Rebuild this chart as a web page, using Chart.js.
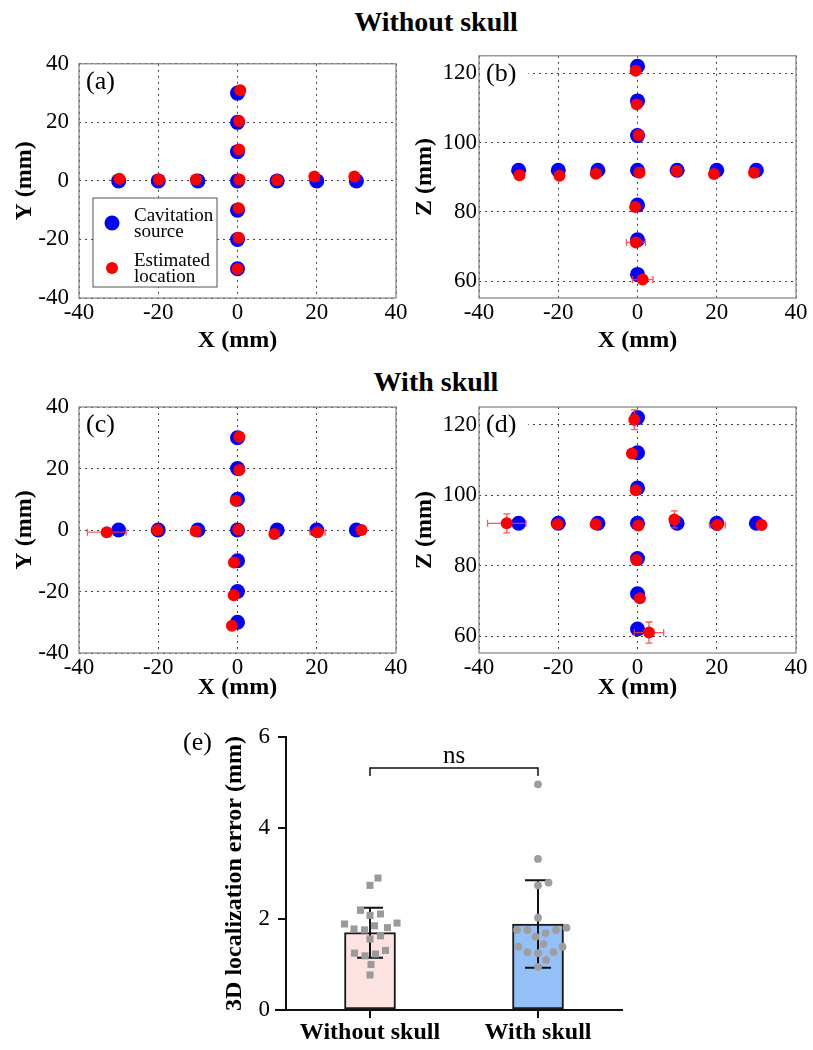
<!DOCTYPE html>
<html>
<head>
<meta charset="utf-8">
<script src="https://cdn.jsdelivr.net/npm/chart.js@4.4.0/dist/chart.umd.min.js"></script>
<style>
  body { margin: 0; background: #fff; width: 813px; height: 1050px; position: relative; overflow: hidden; font-family: "Liberation Serif", "Times New Roman", serif; }
  .panel { position: absolute; }
  .title { position: absolute; left: 0; width: 872px; text-align: center; font-weight: bold; font-size: 28px; line-height: 31px; }
</style>
</head>
<body>
<div class="title" style="top:6px">Without skull</div>
<div class="title" style="top:366px">With skull</div>
<canvas id="pa" class="panel" width="410" height="330" style="left:0;top:40px"></canvas>
<canvas id="pb" class="panel" width="410" height="330" style="left:400px;top:40px"></canvas>
<canvas id="pc" class="panel" width="410" height="345" style="left:0;top:370px"></canvas>
<canvas id="pd" class="panel" width="410" height="345" style="left:400px;top:370px"></canvas>
<canvas id="pe" class="panel" width="500" height="350" style="left:150px;top:700px"></canvas>
<script>
// tick values
const xyTicks = [-40, -20, 0, 20, 40];
const zTicks = [60, 80, 100, 120];
const errTicks = [0, 2, 4, 6];

// cavitation source positions (mm), same for both conditions
const srcX = [-30, -20, -10, 0, 10, 20, 30, 0, 0, 0, 0, 0, 0];
const srcY = [0, 0, 0, 0, 0, 0, 0, 30, 20, 10, -10, -20, -30];
const srcZ = [92, 92, 92, 92, 92, 92, 92, 122, 112, 102, 82, 72, 62];

// (a) without skull, X-Y estimates
const aEstX = [-29.8, -19.8, -10.5, 0.5, 10.0, 19.4, 29.5, 0.7, 0.4, 0.4, 0.3, 0.3, 0.0];
const aEstY = [0.7, 0.5, 0.5, 0.5, 0.3, 1.5, 1.5, 31.0, 20.5, 10.7, -9.3, -19.4, -30.1];

// (b) without skull, X-Z estimates
const bEstX = [-29.8, -19.7, -10.5, 0.5, 9.9, 19.3, 29.4, -0.45, -0.2, 0.3, -0.6, -0.4, 1.3];
const bEstZ = [90.6, 90.4, 91.0, 91.3, 91.8, 90.9, 91.3, 120.7, 111.0, 102.2, 81.4, 71.2, 60.5];
const bErrX = [0, 0, 0, 0, 0, 0, 0, 0, 0, 0, 0, 2.4, 2.6];
const bErrZ = [0, 0, 0, 0, 0, 0, 0, 0, 0, 0, 0, 0, 0];

// (c) with skull, X-Y estimates
const cEstX = [-33.0, -20.2, -10.55, 0.2, 9.3, 20.2, 31.3, 0.45, 0.45, -0.45, -0.9, -0.95, -1.4];
const cEstY = [-0.7, 0.0, -0.4, 0.2, -1.3, -0.7, 0.0, 30.3, 19.5, 9.5, -10.6, -21.2, -31.1];
const cErrX = [4.9, 0, 0, 0, 0, 1.9, 0, 0, 1.0, 0, 0, 0, 0];
const cErrY = [0, 0, 0, 0, 0, 0, 0, 0, 0, 0, 0, 0, 0];

// (d) with skull, X-Z estimates
const dEstX = [-33.0, -20.2, -10.55, 0.2, 9.3, 20.15, 31.3, -0.8, -1.4, -0.45, -0.3, 0.6, 2.9];
const dEstZ = [92.0, 91.7, 91.7, 91.4, 93.1, 91.5, 91.5, 121.4, 111.8, 101.4, 81.6, 70.7, 61.0];
const dErrX = [4.85, 0, 0, 0, 0, 2.0, 0, 0, 0, 0, 0, 0, 3.7];
const dErrZ = [2.7, 0, 0, 0, 2.4, 0, 0, 2.8, 0, 0, 0, 0, 3.0];

// (e) 3D localization error (mm)
const groups = ["Without skull", "With skull"];
const meanErr = [1.70, 1.89];
const sdErr = [0.55, 0.96];
const errWithout = [2.9, 2.74, 2.19, 2.08, 2.11, 1.89, 1.91, 1.85, 1.81, 1.78, 1.76, 1.56, 1.63, 1.31, 1.25, 1.23, 1.19, 1.0, 0.77];
const errWith = [4.96, 3.32, 2.74, 2.8, 2.03, 1.76, 1.76, 1.81, 1.76, 1.61, 1.69, 1.39, 1.45, 1.39, 1.25, 1.27, 1.27, 1.10, 0.95];
const nsLevel = 5.32;

Chart.defaults.font.family = '"Liberation Serif", "Times New Roman", serif';
Chart.defaults.color = "#000";

const tickFont = { size: 23 };
const titleFont = { size: 24, weight: "bold" };
const gridColor = "#444";

function toPts(xs, ys) {
  return xs.map((x, i) => ({ x: x, y: ys[i] }));
}

// frame, panel letter and (optional) legend
function framePlugin(letter, withLegend) {
  return {
    id: "frame",
    beforeDatasetsDraw(chart) {
      const ctx = chart.ctx, a = chart.chartArea;
      ctx.save();
      ctx.strokeStyle = "#808080";
      ctx.lineWidth = 1.2;
      ctx.strokeRect(a.left, a.top, a.right - a.left, a.bottom - a.top);
      // panel letter on white
      ctx.font = "26px " + Chart.defaults.font.family;
      const w = ctx.measureText(letter).width;
      ctx.fillStyle = "#fff";
      ctx.fillRect(a.left + 1, a.top + 3, w + 18, 32);
      ctx.fillStyle = "#000";
      ctx.textBaseline = "middle";
      ctx.fillText(letter, a.left + 7, a.top + 18);
      if (withLegend) {
        const bx = a.left + 14, by = a.bottom - 100, bw = 124, bh = 89;
        ctx.fillStyle = "#fff";
        ctx.fillRect(bx, by, bw, bh);
        ctx.strokeStyle = "#555";
        ctx.lineWidth = 1;
        ctx.strokeRect(bx, by, bw, bh);
        const ds = chart.data.datasets;
        const items = [
          { d: ds[1], lines: ["Cavitation", "source"], cy: 25 },
          { d: ds[0], lines: ["Estimated", "location"], cy: 70 }
        ];
        ctx.font = "19px " + Chart.defaults.font.family;
        items.forEach(it => {
          ctx.fillStyle = it.d.backgroundColor;
          ctx.beginPath();
          ctx.arc(bx + 19, by + it.cy, it.d.pointRadius, 0, Math.PI * 2);
          ctx.fill();
          ctx.fillStyle = "#000";
          ctx.fillText(it.lines[0], bx + 41, by + it.cy - 7);
          ctx.fillText(it.lines[1], bx + 41, by + it.cy + 9);
        });
      }
      ctx.restore();
    }
  };
}

// error bars under the red estimates
function errorPlugin(errX, errY) {
  return {
    id: "errbars",
    beforeDatasetDraw(chart, args) {
      if (args.index !== 0 || (!errX && !errY)) return;
      const ctx = chart.ctx, xs = chart.scales.x, ys = chart.scales.y;
      ctx.save();
      ctx.strokeStyle = "rgba(255,60,60,0.85)";
      ctx.lineWidth = 1.3;
      chart.data.datasets[0].data.forEach((p, i) => {
        const px = xs.getPixelForValue(p.x), py = ys.getPixelForValue(p.y);
        const ex = errX ? errX[i] : 0, ey = errY ? errY[i] : 0;
        ctx.beginPath();
        if (ex) {
          const x1 = xs.getPixelForValue(p.x - ex), x2 = xs.getPixelForValue(p.x + ex);
          ctx.moveTo(x1, py); ctx.lineTo(x2, py);
          ctx.moveTo(x1, py - 3.5); ctx.lineTo(x1, py + 3.5);
          ctx.moveTo(x2, py - 3.5); ctx.lineTo(x2, py + 3.5);
        }
        if (ey) {
          const y1 = ys.getPixelForValue(p.y - ey), y2 = ys.getPixelForValue(p.y + ey);
          ctx.moveTo(px, y1); ctx.lineTo(px, y2);
          ctx.moveTo(px - 3.5, y1); ctx.lineTo(px + 3.5, y1);
          ctx.moveTo(px - 3.5, y2); ctx.lineTo(px + 3.5, y2);
        }
        ctx.stroke();
      });
      ctx.restore();
    }
  };
}

function scatterPanel(id, o) {
  return new Chart(document.getElementById(id), {
    type: "scatter",
    data: {
      datasets: [
        { label: "Estimated location", data: toPts(o.estX, o.estY), backgroundColor: "#ff0000",
          pointRadius: 6, pointBorderWidth: 0, order: 0 },
        { label: "Cavitation source", data: toPts(srcX, o.srcY), backgroundColor: "#0000ff",
          pointRadius: 7.5, pointBorderWidth: 0, order: 1 }
      ]
    },
    options: {
      responsive: false,
      animation: false,
      events: [],
      layout: { padding: { top: o.padTop, right: 14, left: 0, bottom: 0 } },
      plugins: { legend: { display: false }, tooltip: { enabled: false } },
      scales: {
        x: {
          type: "linear", min: -40, max: 40,
          afterBuildTicks: s => { s.ticks = xyTicks.map(v => ({ value: v })); },
          afterFit: s => { s.height = o.xH; },
          grid: { color: gridColor, lineWidth: 1, drawTicks: false },
          border: { display: false, dash: [2, 4] },
          ticks: { font: tickFont, padding: 1, maxRotation: 0, autoSkip: false },
          title: { display: true, text: "X (mm)", font: titleFont, padding: { top: 0, bottom: o.xTitlePad } }
        },
        y: {
          type: "linear", min: o.yMin, max: o.yMax,
          afterBuildTicks: s => { s.ticks = o.yTicks.map(v => ({ value: v })); },
          afterFit: s => { s.width = 79; },
          grid: { color: gridColor, lineWidth: 1, drawTicks: false },
          border: { display: false, dash: [2, 4] },
          ticks: { font: tickFont, padding: o.yTickPad, autoSkip: false },
          title: { display: true, text: o.yTitle, font: titleFont, padding: { top: 10.6, bottom: 0 } }
        }
      }
    },
    plugins: [framePlugin(o.letter, o.legend), errorPlugin(o.errX, o.errY)]
  });
}

scatterPanel("pa", { letter: "(a)", legend: true, estX: aEstX, estY: aEstY, srcY: srcY,
  yMin: -40, yMax: 40, yTicks: xyTicks, yTitle: "Y (mm)", yTickPad: 10,
  padTop: 13, xH: 72, xTitlePad: 14.6 });
scatterPanel("pb", { letter: "(b)", estX: bEstX, estY: bEstZ, srcY: srcZ, errX: bErrX, errY: bErrZ,
  yMin: 55.2, yMax: 125, yTicks: zTicks, yTitle: "Z (mm)", yTickPad: 2,
  padTop: 12, xH: 72, xTitlePad: 14.6 });
scatterPanel("pc", { letter: "(c)", estX: cEstX, estY: cEstY, srcY: srcY, errX: cErrX, errY: cErrY,
  yMin: -40, yMax: 40, yTicks: xyTicks, yTitle: "Y (mm)", yTickPad: 10,
  padTop: 37, xH: 62, xTitlePad: 12.6 });
scatterPanel("pd", { letter: "(d)", estX: dEstX, estY: dEstZ, srcY: srcZ, errX: dErrX, errY: dErrZ,
  yMin: 55.2, yMax: 125, yTicks: zTicks, yTitle: "Z (mm)", yTickPad: 2,
  padTop: 37, xH: 62, xTitlePad: 12.6 });

// (e) bar chart: SD bars, ns bracket, axis stub, panel letter
const barPlugin = {
  id: "barExtras",
  afterDatasetDraw(chart, args) {
    if (args.index !== 2) return;
    const ctx = chart.ctx, xs = chart.scales.x, ys = chart.scales.y;
    ctx.save();
    ctx.strokeStyle = "#111";
    ctx.lineWidth = 2;
    meanErr.forEach((m, i) => {
      const px = xs.getPixelForValue(i);
      const y1 = ys.getPixelForValue(m - sdErr[i]), y2 = ys.getPixelForValue(m + sdErr[i]);
      ctx.beginPath();
      ctx.moveTo(px, y1); ctx.lineTo(px, y2);
      ctx.moveTo(px - 13, y1); ctx.lineTo(px + 13, y1);
      ctx.moveTo(px - 13, y2); ctx.lineTo(px + 13, y2);
      ctx.stroke();
    });
    ctx.restore();
  },
  afterDraw(chart) {
    const ctx = chart.ctx, xs = chart.scales.x, ys = chart.scales.y, a = chart.chartArea;
    ctx.save();
    ctx.strokeStyle = "#111";
    ctx.lineWidth = 2;
    ctx.beginPath();
    ctx.moveTo(a.left - 11, ys.getPixelForValue(0));
    ctx.lineTo(a.left, ys.getPixelForValue(0));
    ctx.stroke();
    // ns bracket
    const x0 = xs.getPixelForValue(0), x1 = xs.getPixelForValue(1), yl = ys.getPixelForValue(nsLevel);
    ctx.lineWidth = 1.5;
    ctx.beginPath();
    ctx.moveTo(x0, yl + 8); ctx.lineTo(x0, yl); ctx.lineTo(x1, yl); ctx.lineTo(x1, yl + 8);
    ctx.stroke();
    ctx.fillStyle = "#000";
    ctx.textAlign = "center";
    ctx.textBaseline = "alphabetic";
    ctx.font = "25px " + Chart.defaults.font.family;
    ctx.fillText("ns", (x0 + x1) / 2, yl - 5);
    ctx.textAlign = "left";
    ctx.textBaseline = "middle";
    ctx.font = "26px " + Chart.defaults.font.family;
    ctx.fillText("(e)", a.left - 103, a.top + 6);
    ctx.restore();
  }
};

const eChart = new Chart(document.getElementById("pe"), {
  type: "bar",
  data: {
    datasets: [
      { type: "scatter", data: errWithout.map(v => ({ x: 0, y: v })), backgroundColor: "#9a9a9a",
        pointStyle: "rect", pointRadius: 5, pointBorderWidth: 0, order: 0 },
      { type: "scatter", data: errWith.map(v => ({ x: 1, y: v })), backgroundColor: "#9e9e9e",
        pointStyle: "circle", pointRadius: 3.9, pointBorderWidth: 0, order: 1 },
      { type: "bar", data: meanErr.map((v, i) => ({ x: i, y: v })),
        backgroundColor: ["#fde2e2", "#93c1f7"], borderColor: "#1a1a1a", borderWidth: 2,
        borderSkipped: false, barThickness: 51, order: 2 }
    ]
  },
  options: {
    responsive: false,
    animation: false,
    events: [],
    layout: { padding: { top: 37, right: 28, left: 60, bottom: 0 } },
    plugins: { legend: { display: false }, tooltip: { enabled: false } },
    scales: {
      x: {
        type: "linear", min: -0.5, max: 1.5, offset: false,
        afterBuildTicks: s => { s.ticks = groups.map((g, i) => ({ value: i })); },
        afterFit: s => { s.height = 40; },
        grid: { drawOnChartArea: false, drawTicks: true, tickLength: 8, color: "#111", lineWidth: 2, offset: false },
        border: { color: "#111", width: 2 },
        ticks: { font: { size: 24, weight: "bold" }, padding: 0, maxRotation: 0, autoSkip: false,
          callback: v => groups[v] }
      },
      y: {
        type: "linear", min: 0, max: 6,
        afterBuildTicks: s => { s.ticks = errTicks.map(v => ({ value: v })); },
        afterFit: s => { s.width = 76; },
        grid: { drawOnChartArea: false, drawTicks: true, tickLength: 8, color: "#111", lineWidth: 2 },
        border: { color: "#111", width: 2 },
        ticks: { font: tickFont, padding: 8, autoSkip: false },
        title: { display: true, text: "3D localization error (mm)", font: titleFont, padding: { top: 10.6, bottom: 0 } }
      }
    }
  },
  plugins: [barPlugin]
});

// spread the individual points sideways (beeswarm) using the chart's own scales
function swarmOffsets(vals, yScale, xScale, diam) {
  const unitX = xScale.getPixelForValue(1) - xScale.getPixelForValue(0);
  const py = vals.map(v => yScale.getPixelForValue(v));
  const order = vals.map((v, i) => i).sort((p, q) => vals[p] - vals[q]);
  const placed = [];
  const off = vals.map(() => 0);
  order.forEach(i => {
    for (let k = 0; k < 400; k++) {
      const dx = (k % 2 ? 1 : -1) * Math.ceil(k / 2) * 0.5;
      const ok = placed.every(p => (p.dx - dx) ** 2 + (p.py - py[i]) ** 2 >= diam * diam);
      if (ok) {
        off[i] = dx / unitX;
        placed.push({ dx: dx, py: py[i] });
        break;
      }
    }
  });
  return off;
}

const offA = swarmOffsets(errWithout, eChart.scales.y, eChart.scales.x, 10.5);
const offB = swarmOffsets(errWith, eChart.scales.y, eChart.scales.x, 10.5);
eChart.data.datasets[0].data = errWithout.map((v, i) => ({ x: 0 + offA[i], y: v }));
eChart.data.datasets[1].data = errWith.map((v, i) => ({ x: 1 + offB[i], y: v }));
eChart.update();
</script>
</body>
</html>
